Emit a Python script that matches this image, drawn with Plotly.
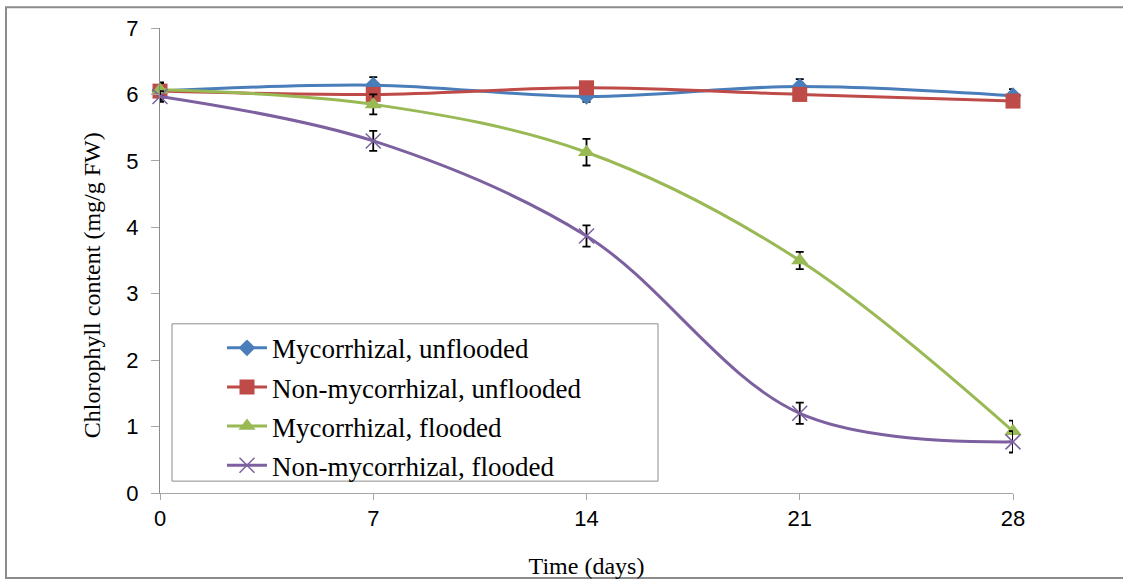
import plotly.graph_objects as go

# Sampling days
days = [0, 7, 14, 21, 28]

# Chlorophyll content (mg/g FW) per treatment
myc_unflooded = [6.05, 6.14, 5.97, 6.12, 5.98]
nonmyc_unflooded = [6.05, 6.00, 6.10, 6.00, 5.90]
myc_flooded = [6.07, 5.85, 5.13, 3.50, 0.93]
nonmyc_flooded = [5.97, 5.30, 3.87, 1.20, 0.77]

# Standard errors
err_myc_unflooded = [0.13, 0.12, 0.08, 0.11, 0.10]
err_nonmyc_unflooded = [0.10, 0.06, 0.05, 0.07, 0.08]
err_myc_flooded = [0.10, 0.15, 0.20, 0.13, 0.16]
err_nonmyc_flooded = [0.08, 0.15, 0.16, 0.16, 0.16]

series_names = [
    "Mycorrhizal, unflooded",
    "Non-mycorrhizal, unflooded",
    "Mycorrhizal, flooded",
    "Non-mycorrhizal, flooded",
]

x_title = "Time (days)"
y_title = "Chlorophyll content (mg/g FW)"

serif = "Liberation Serif, Times New Roman, serif"
sans = "Liberation Sans, Arial, sans-serif"

styles = [
    dict(color="#4A7EBB", symbol="diamond", size=13, mline=None),
    dict(color="#BE4B48", symbol="square", size=15, mline=None),
    dict(color="#98B954", symbol="triangle-up", size=15, mline=None),
    dict(color="#7D60A0", symbol="x-thin-open", size=15, mline="#A996C8"),
]

values = [myc_unflooded, nonmyc_unflooded, myc_flooded, nonmyc_flooded]
errors = [err_myc_unflooded, err_nonmyc_unflooded, err_myc_flooded, err_nonmyc_flooded]

fig = go.Figure()
for name, y, e, st in zip(series_names, values, errors, styles):
    marker = dict(symbol=st["symbol"], size=st["size"], color=st["color"])
    if st["mline"]:
        marker["line"] = dict(color=st["mline"], width=1.5)
    fig.add_trace(go.Scatter(
        x=days, y=y, name=name, legendgroup=name,
        mode="lines+markers",
        line=dict(color=st["color"], width=3, shape="spline", smoothing=1.0),
        marker=marker,
        error_y=dict(type="data", array=e, visible=True,
                     color="#000000", thickness=1.8, width=4),
        cliponaxis=False,
    ))

W, H = 1123, 586
left, right, top, bottom = 160, 1013, 28, 498
pw, ph = right - left, bottom - top


def px_x(p):
    return (p - left) / pw


def px_y(p):
    return (bottom - p) / ph


fig.update_layout(
    width=W, height=H,
    margin=dict(l=left, r=W - right, t=top, b=H - bottom, pad=0),
    paper_bgcolor="white", plot_bgcolor="white",
    showlegend=True,
    legend=dict(
        x=px_x(222), y=px_y(327), xanchor="left", yanchor="top",
        bgcolor="rgba(0,0,0,0)", borderwidth=0,
        font=dict(family=serif, size=27, color="#000000"),
        tracegroupgap=1, itemwidth=40,
    ),
    xaxis=dict(
        range=[0, 28], tickmode="array", tickvals=days,
        ticktext=[str(d) for d in days],
        showgrid=False, zeroline=False,
        showline=True, linecolor="#A6A6A6", linewidth=1,
        ticks="outside", ticklen=6, tickcolor="#A6A6A6",
        tickfont=dict(family=sans, size=22, color="#000000"),
        title=dict(text=x_title, font=dict(family=serif, size=24, color="#000000"),
                   standoff=26),
    ),
    yaxis=dict(
        range=[0, 7], dtick=1, tick0=0,
        showgrid=False, zeroline=False,
        showline=True, linecolor="#8C8C8C", linewidth=1,
        ticks="outside", ticklen=8, tickcolor="#A6A6A6",
        tickfont=dict(family=sans, size=22, color="#000000"),
        ticklabelstandoff=8,
    ),
    annotations=[
        dict(text=y_title, textangle=-90, showarrow=False,
             xref="paper", yref="paper", x=px_x(92), y=px_y(288),
             xanchor="center", yanchor="middle",
             font=dict(family=serif, size=24, color="#000000")),
    ],
    shapes=[
        # legend frame
        dict(type="rect", xref="paper", yref="paper",
             x0=px_x(172), x1=px_x(658), y0=px_y(486), y1=px_y(327),
             line=dict(color="#8C8C8C", width=1), fillcolor="white",
             layer="below"),
        # chart frame
        dict(type="rect", xref="paper", yref="paper",
             x0=px_x(6), x1=px_x(1130), y0=px_y(584), y1=px_y(7),
             line=dict(color="#8C8C8C", width=2), fillcolor="rgba(0,0,0,0)",
             layer="below"),
    ],
)

fig.write_html("out.html")
